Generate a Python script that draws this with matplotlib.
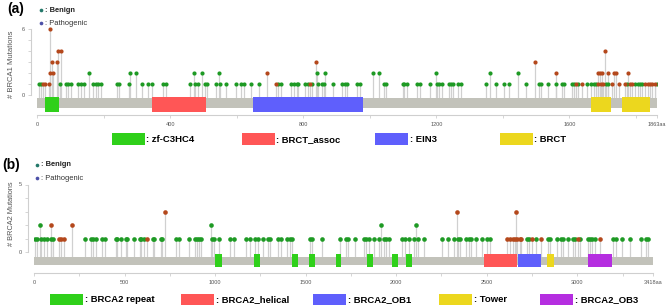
import matplotlib
matplotlib.use("Agg")
import matplotlib.pyplot as plt
from matplotlib.patches import Rectangle
from matplotlib.ticker import FixedLocator, FixedFormatter

plt.rcParams['font.family'] = ['Liberation Sans', 'DejaVu Sans']

# ---------------- data: panel (a) BRCA1 ----------------
a_length = 1863
a_benign_pos = [6, 12, 69, 87, 93, 101, 124, 131, 141, 169, 176, 184, 191, 239, 246, 276, 316, 334, 346,
                380, 388, 460, 475, 485, 505, 512, 538, 550, 568, 597, 613, 623, 643, 668, 725, 733, 762,
                772, 780, 785, 805, 813, 825, 843, 857, 863, 890, 917, 925, 933, 962, 971, 1044, 1048,
                1099, 1104, 1111, 1141, 1151, 1181, 1201, 1208, 1216, 1238, 1244, 1251, 1266, 1274, 1348,
                1379, 1403, 1419, 1468, 1509, 1514, 1535, 1561, 1577, 1584, 1607, 1614, 1627, 1652, 1665,
                1675, 1680, 1709, 1717, 1774, 1797, 1805, 1812, 1819, 1862,
                155, 278, 298, 473, 497, 547, 842, 865, 1009, 1029, 1200, 1361, 1444]
a_benign_cnt = [1] * 94 + [2] * 13
a_path_pos = [19, 25, 37, 718, 819, 1620, 1637, 1686, 1695, 1702, 1727, 1749, 1767, 1782, 1789, 1827,
              1835, 1842, 1849, 1857,
              40, 47, 692, 1560, 1685, 1692, 1699, 1717, 1735, 1740, 1777,
              44, 61, 837, 1496,
              63, 71, 1707,
              39]
a_path_cnt = [1] * 20 + [2] * 11 + [3] * 4 + [4] * 3 + [6]
a_dom_names = ['zf-C3HC4', 'BRCT_assoc', 'EIN3', 'BRCT', 'BRCT']
a_dom_start = [24, 345, 650, 1664, 1759]
a_dom_end = [65, 508, 980, 1725, 1842]
a_xticks = [0, 200, 400, 600, 800, 1000, 1200, 1400, 1600, 1800, 1863]
a_xlabels = ['0', '', '400', '', '800', '', '1200', '', '1600', '', '1863aa']

# ---------------- data: panel (b) BRCA2 ----------------
b_length = 3418
b_benign_pos = [4, 16, 40, 53, 72, 96, 107, 280, 313, 326, 344, 375, 390, 451, 460, 482, 506, 513, 552,
                583, 592, 607, 657, 662, 700, 708, 782, 799, 856, 890, 900, 911, 923, 984, 994, 1019,
                1084, 1102, 1168, 1190, 1223, 1236, 1264, 1291, 1304, 1350, 1365, 1396, 1411, 1424, 1525,
                1536, 1591, 1690, 1724, 1733, 1770, 1820, 1834, 1849, 1880, 1904, 1930, 1941, 1959, 2033,
                2046, 2073, 2101, 2119, 2152, 2252, 2285, 2318, 2340, 2355, 2386, 2401, 2414, 2438, 2473,
                2503, 2516, 2722, 2733, 2773, 2838, 2847, 2888, 2910, 2923, 2947, 2975, 2988, 3015, 3057,
                3070, 3081, 3100, 3199, 3214, 3247, 3293, 3352, 3380, 3389,
                31, 975, 1917, 2107]
b_benign_cnt = [1] * 106 + [2] * 4
b_path_pos = [138, 151, 164, 625, 2612, 2627, 2645, 2658, 2669, 2682, 2691, 2751, 2797, 3003, 3125,
              92, 210,
              721, 2334, 2661]
b_path_cnt = [1] * 15 + [2] * 2 + [3] * 3
b_dom_names = ['BRCA2 repeat'] * 8 + ['BRCA2_helical', 'BRCA2_OB1', 'Tower', 'BRCA2_OB3']
b_dom_start = [1001, 1214, 1424, 1518, 1665, 1838, 1976, 2055, 2483, 2671, 2833, 3057]
b_dom_end = [1038, 1249, 1457, 1551, 1696, 1871, 2009, 2087, 2667, 2800, 2874, 3191]
b_xticks = [0, 250, 500, 750, 1000, 1250, 1500, 1750, 2000, 2250, 2500, 2750, 3000, 3250, 3418]
b_xlabels = ['0', '', '500', '', '1000', '', '1500', '', '2000', '', '2500', '', '3000', '', '3418aa']

# ---------------- style ----------------
W, H = 668, 305
dom_colors = {'zf-C3HC4': '#2fd01a', 'BRCT_assoc': '#ff5656', 'EIN3': '#5f5ffc', 'BRCT': '#ecd71e',
              'BRCA2 repeat': '#2fd01a', 'BRCA2_helical': '#ff5656', 'BRCA2_OB1': '#5f5ffc',
              'Tower': '#ecd71e', 'BRCA2_OB3': '#b52ee0'}
BEN = '#1e9a24'
PAT = '#b4481c'
STEM = '#d0d0d0'
TRACK = '#c2c2ba'
AXC = '#cfcfcf'
TXT = '#555555'

fig = plt.figure(figsize=(W / 100, H / 100), dpi=100)


def px_axes(l, t, r, b):
    return fig.add_axes([l / W, 1 - b / H, (r - l) / W, (b - t) / H])


def panel(ax, length, bpos, bcnt, ppos, pcnt, dnames, dstart, dend, xticks, xlabels,
          ylim, ymax, trk, dom, msize):
    ax.set_xlim(0, length)
    ax.set_ylim(*ylim)
    ax.set_facecolor('none')
    # stems
    ax.vlines(bpos, trk[1], bcnt, color=STEM, lw=0.9, zorder=1)
    ax.vlines(ppos, trk[1], pcnt, color=STEM, lw=0.9, zorder=1)
    # track
    ax.add_patch(Rectangle((0, trk[0]), length, trk[1] - trk[0], color=TRACK, lw=0, zorder=2))
    for n, s, e in zip(dnames, dstart, dend):
        ax.add_patch(Rectangle((s, dom[0]), e - s, dom[1] - dom[0], color=dom_colors[n], lw=0, zorder=3))
    # heads
    ax.scatter(bpos, bcnt, s=msize, color=BEN, lw=0, zorder=4)
    ax.scatter(ppos, pcnt, s=msize, color=PAT, lw=0, zorder=5)
    # axes
    for s in ['top', 'right']:
        ax.spines[s].set_visible(False)
    ax.spines['bottom'].set_color(AXC)
    ax.spines['bottom'].set_linewidth(0.8)
    ax.spines['left'].set_color(AXC)
    ax.spines['left'].set_linewidth(0.8)
    ax.spines['left'].set_bounds(0, ymax)
    ax.spines['left'].set_position(('outward', 4.3))
    ax.xaxis.set_major_locator(FixedLocator(xticks))
    ax.xaxis.set_major_formatter(FixedFormatter(xlabels))
    ax.tick_params(axis='x', length=2.5, width=0.6, color=AXC, labelsize=4, labelcolor=TXT, pad=2.5)
    yt = list(range(0, ymax + 1))
    ax.yaxis.set_major_locator(FixedLocator(yt))
    ax.yaxis.set_major_formatter(FixedFormatter([str(v) if v in (0, ymax) else '' for v in yt]))
    ax.tick_params(axis='y', length=2, width=0.6, color=AXC, labelsize=4, labelcolor=TXT, pad=2.5)


# panel (a)
axa = px_axes(37, 22, 657, 115)
panel(axa, a_length, a_benign_pos, a_benign_cnt, a_path_pos, a_path_cnt,
      a_dom_names, a_dom_start, a_dom_end, a_xticks, a_xlabels,
      (-(115 - 95) / 11, (95 - 22) / 11), 6, (-1.18, -0.27), (-1.52, -0.21), 9)

# panel (b)
axb = px_axes(34, 172, 653, 272.7)
panel(axb, b_length, b_benign_pos, b_benign_cnt, b_path_pos, b_path_cnt,
      b_dom_names, b_dom_start, b_dom_end, b_xticks, b_xlabels,
      (-(272.7 - 252) / 13.5, (252 - 172) / 13.5), 5, (-0.96, -0.35), (-1.13, -0.15), 11)

# overlay for annotations
ov = fig.add_axes([0, 0, 1, 1])
ov.set_xlim(0, W)
ov.set_ylim(H, 0)
ov.axis('off')
ov.patch.set_alpha(0)

ov.text(15.5, 9.5, '(a)', fontsize=10, fontweight='bold', ha='center', va='center')
ov.text(11.5, 165.5, '(b)', fontsize=10, fontweight='bold', ha='center', va='center')

ov.text(12, 64, '# BRCA1 Mutations', rotation=90, fontsize=5.5, color=TXT, ha='center', va='center')
ov.text(12, 213.5, '# BRCA2 Mutations', rotation=90, fontsize=5.3, color=TXT, ha='center', va='center')

for (x, y) in [(41, 10), (37, 165)]:
    ov.scatter([x], [y], s=7, color='#23786a', lw=0)
    ov.text(x + 4, y, ': Benign', fontsize=5.4, fontweight='bold', va='center', ha='left', color='#222222')
for (x, y) in [(41, 23.3), (37, 178)]:
    ov.scatter([x], [y], s=7, color='#4c50a8', lw=0)
    ov.text(x + 4, y, ': Pathogenic', fontsize=5.4, va='center', ha='left', color='#333333')

legend_a = ['zf-C3HC4', 'BRCT_assoc', 'EIN3', 'BRCT']
legend_a_x = [112, 242, 375, 500]
for n, x in zip(legend_a, legend_a_x):
    ov.add_patch(Rectangle((x, 133.3), 32.5, 11.7, color=dom_colors[n], lw=0))
    ov.text(x + 34.5, 139.3, ': ' + n, fontsize=6.8, fontweight='bold', va='center', ha='left')

legend_b = ['BRCA2 repeat', 'BRCA2_helical', 'BRCA2_OB1', 'Tower', 'BRCA2_OB3']
legend_b_x = [50, 181, 313, 439, 540]
for n, x in zip(legend_b, legend_b_x):
    ov.add_patch(Rectangle((x, 294), 33, 10.5, color=dom_colors[n], lw=0))
    ov.text(x + 35, 299.3, ': ' + n, fontsize=6.8, fontweight='bold', va='center', ha='left')

fig.savefig('out.png', dpi=100)
